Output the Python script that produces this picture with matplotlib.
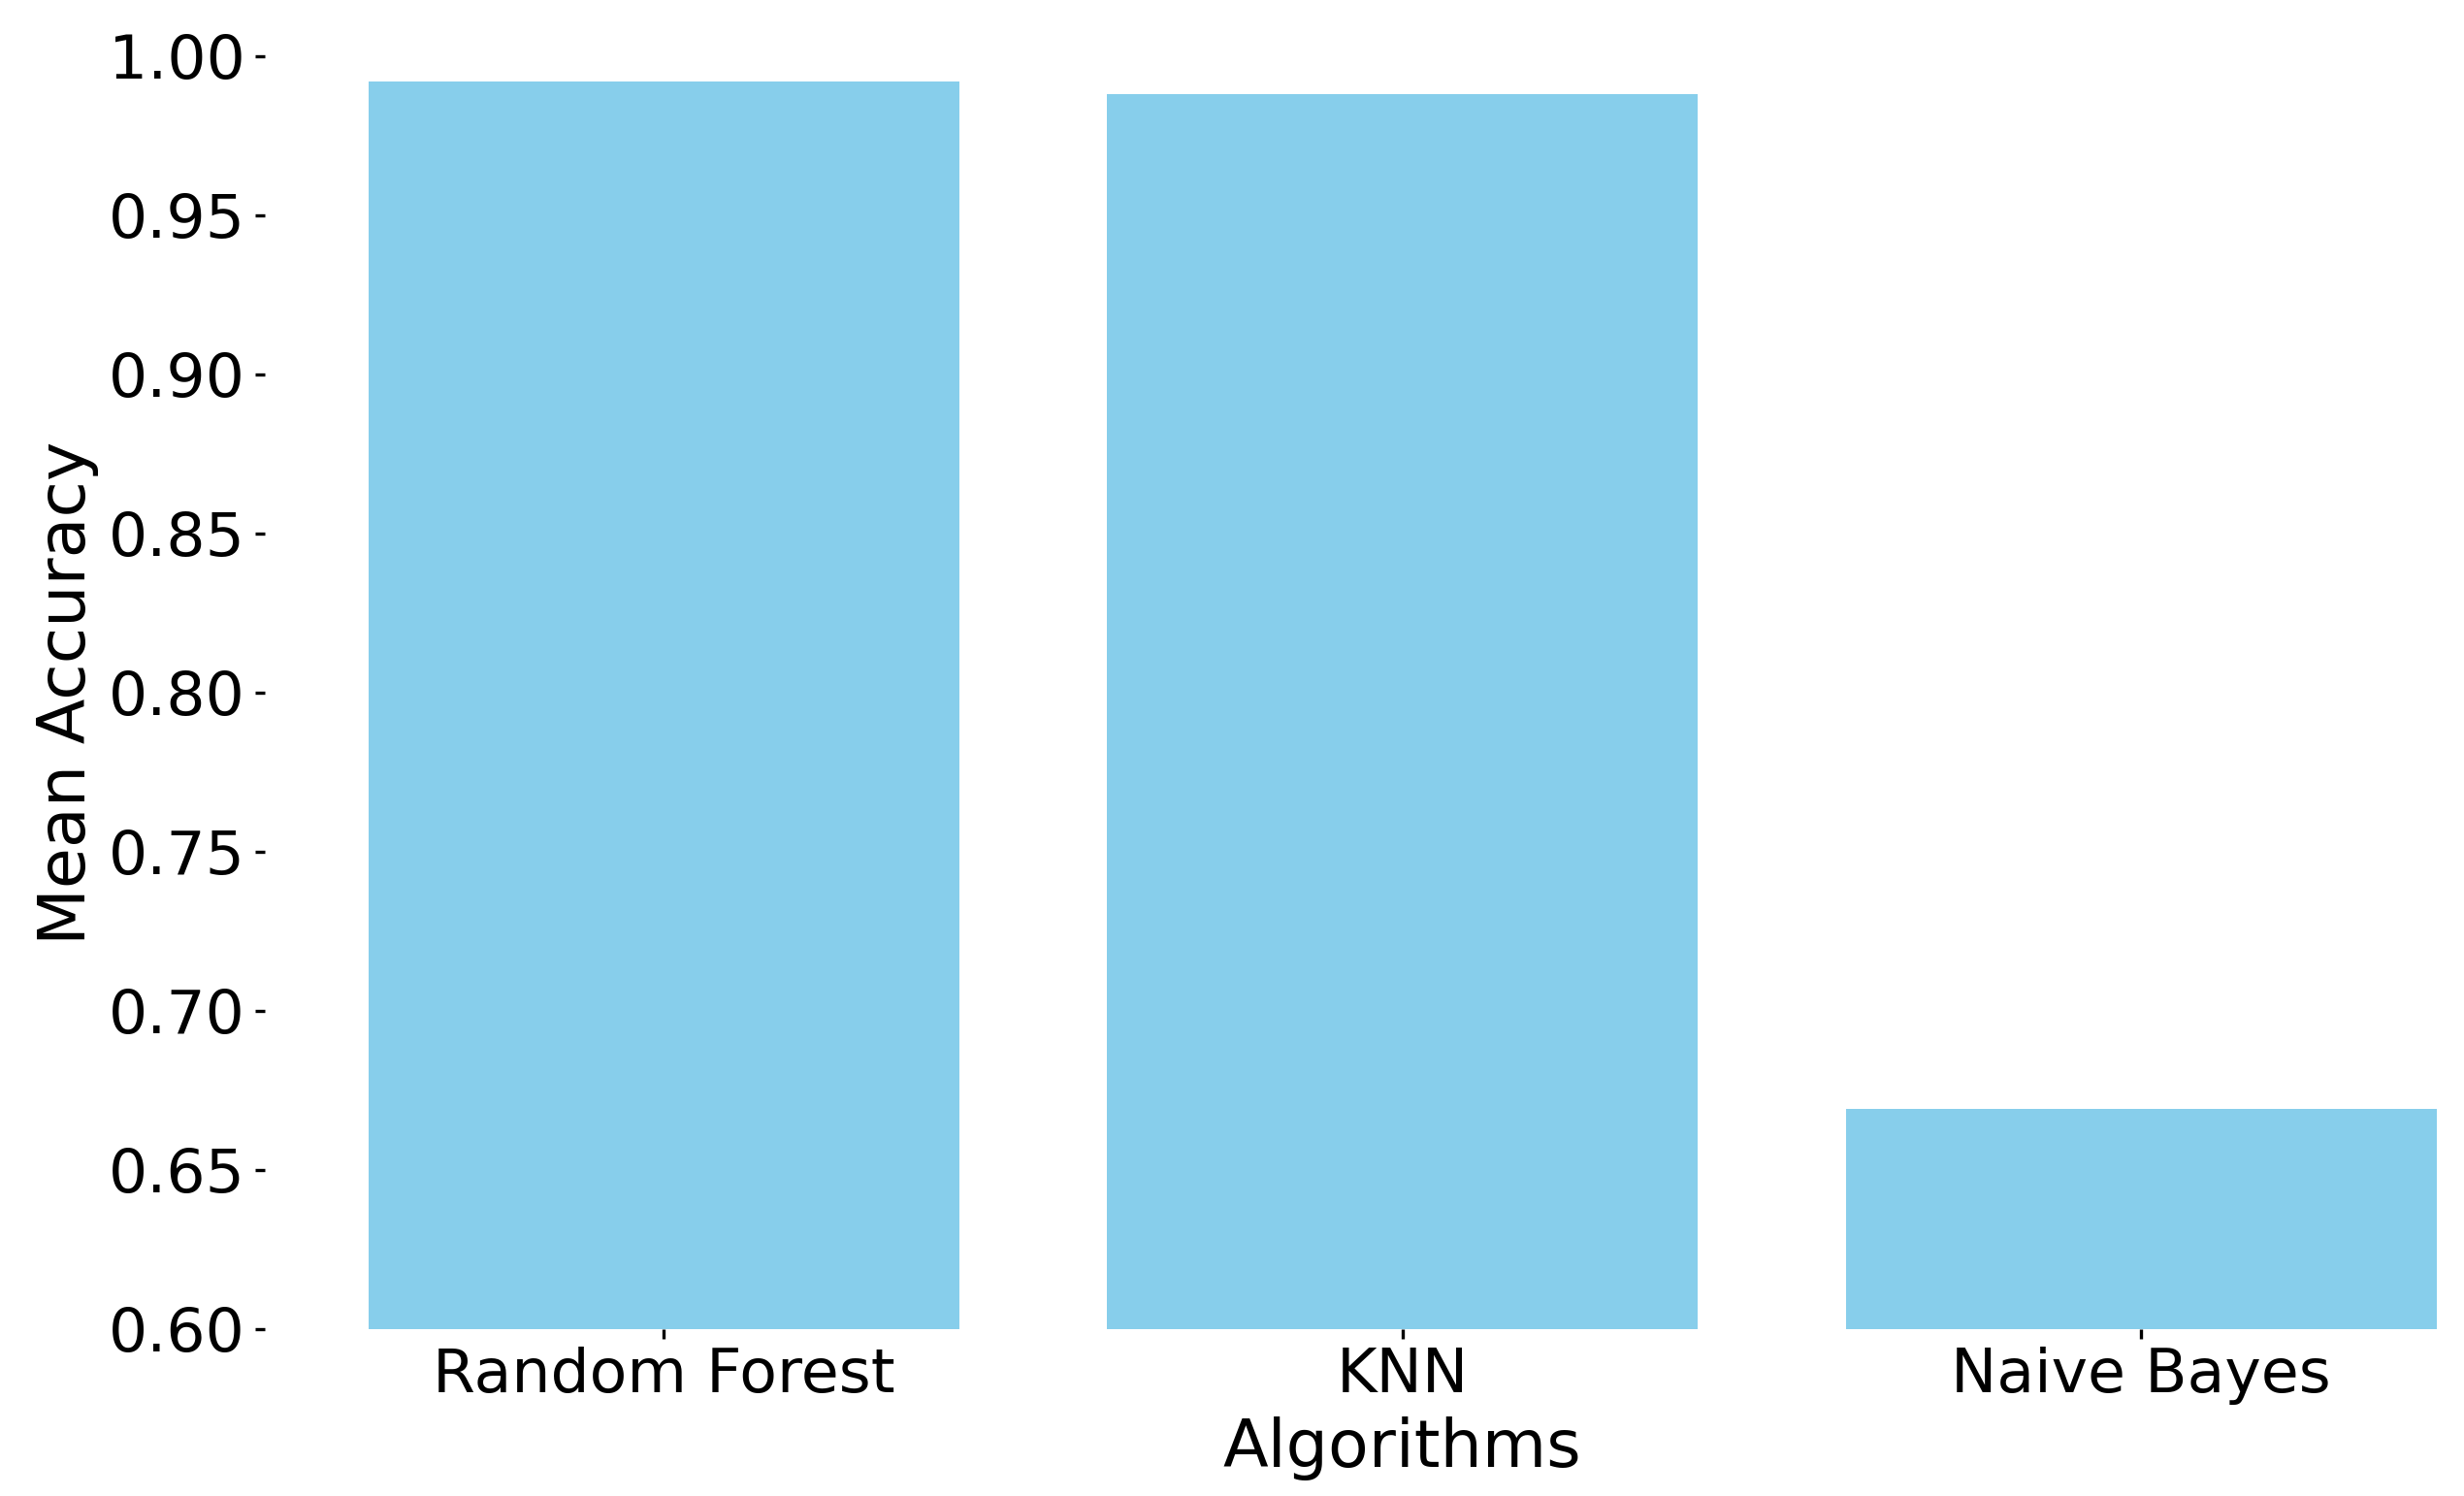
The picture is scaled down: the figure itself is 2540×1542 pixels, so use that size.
import matplotlib
matplotlib.use("Agg")
import matplotlib.pyplot as plt

algorithms = ["Random Forest", "KNN", "Naive Bayes"]
mean_accuracy = [0.992, 0.988, 0.669]
y_ticks = [0.60, 0.65, 0.70, 0.75, 0.80, 0.85, 0.90, 0.95, 1.00]

fig = plt.figure(figsize=(2540 / 300, 1542 / 300), dpi=300)
ax = fig.add_axes([0.1075, 0.1117, 0.9234, 0.8507])
ax.bar(algorithms, mean_accuracy, color="skyblue", width=0.8)
ax.set_ylim(0.6, 1.0)
ax.set_xlim(-0.54, 2.54)
ax.set_yticks(y_ticks)
ax.set_yticklabels([f"{v:.2f}" for v in y_ticks])
for s in ax.spines.values():
    s.set_visible(False)
ax.tick_params(axis="both", labelsize=15.2, length=2.4)
ax.tick_params(axis="y", pad=2.4)
ax.tick_params(axis="x", pad=1.9)
ax.set_xlabel("Algorithms", fontsize=16.4, labelpad=3.0)
ax.set_ylabel("Mean Accuracy", fontsize=16.4, labelpad=2.4)
fig.savefig("out.png", dpi=300)
